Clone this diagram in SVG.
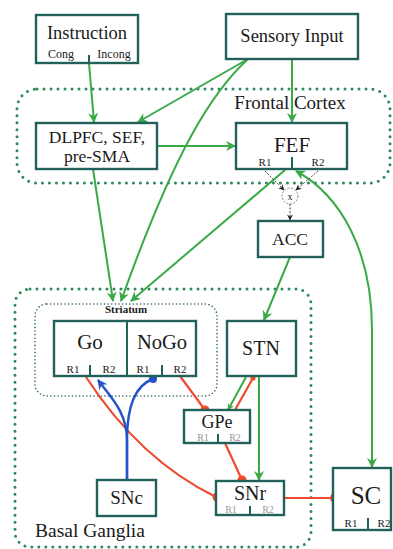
<svg xmlns="http://www.w3.org/2000/svg" width="393" height="549" viewBox="0 0 393 549">
<defs>
<style>
.box{fill:#fff;stroke:#22605a;stroke-width:2.4}
.tick{stroke:#22605a;stroke-width:2}
.t{font-family:"Liberation Serif","Times New Roman",serif;fill:#1a1a1a;text-anchor:middle}
.sm{font-size:11px}
.xs{font-size:10px}
.gray{fill:#9a9a9a}
.frame{fill:none;stroke:#2a8a5a;stroke-width:3;stroke-dasharray:0 7;stroke-linecap:round}
.sframe{fill:none;stroke:#22605a;stroke-width:1.6;stroke-dasharray:0 3.6;stroke-linecap:round}
.g{fill:none;stroke:#3aaa48;stroke-width:2}
.r{fill:none;stroke:#f04a2f;stroke-width:2.2}
.b{fill:none;stroke:#2452c8;stroke-width:2.4}
.k{fill:none;stroke:#333;stroke-width:0.9;stroke-dasharray:2 1.5}
.rd{fill:#f04a2f}
.bd{fill:#2452c8}
</style>
<marker id="ag" viewBox="0 0 10 10" refX="9" refY="5" markerWidth="12" markerHeight="10" markerUnits="userSpaceOnUse" orient="auto-start-reverse"><path d="M0,0 L10,5 L0,10 L3,5 z" fill="#3aaa48"/></marker>
<marker id="ags" viewBox="0 0 10 10" refX="9" refY="5" markerWidth="8" markerHeight="7" markerUnits="userSpaceOnUse" orient="auto"><path d="M0,0 L10,5 L0,10 L3,5 z" fill="#3aaa48"/></marker>
<marker id="ab" viewBox="0 0 10 10" refX="9" refY="5" markerWidth="12" markerHeight="10" markerUnits="userSpaceOnUse" orient="auto"><path d="M0,0 L10,5 L0,10 L3,5 z" fill="#2452c8"/></marker>
<marker id="ak" viewBox="0 0 10 10" refX="9" refY="5" markerWidth="7" markerHeight="6" markerUnits="userSpaceOnUse" orient="auto"><path d="M0,0 L10,5 L0,10 L3,5 z" fill="#222"/></marker>
</defs>
<rect width="393" height="549" fill="#fff"/>

<g id="frontal-cortex">
<rect class="frame" x="17" y="89" width="373" height="94" rx="20"/>
<text class="t" x="290" y="109" font-size="19">Frontal Cortex</text>
</g>
<g id="basal-ganglia">
<rect class="frame" x="15" y="289" width="296" height="258" rx="15"/>
<text class="t" x="35" y="537" font-size="19.5" style="text-anchor:start">Basal Ganglia</text>
</g>
<g id="striatum">
<rect class="sframe" x="35" y="304" width="182" height="92" rx="12"/>
<text class="t" x="126" y="313" font-size="11" font-weight="bold" fill="#333">Striatum</text>
</g>

<g id="connectors">
<path class="g" d="M89,63 L94,122" marker-end="url(#ag)"/>
<path class="g" d="M248,59 L138,122" marker-end="url(#ag)"/>
<path class="g" d="M292,59 L292,122" marker-end="url(#ag)"/>
<path class="g" d="M157,146 L235,146" marker-end="url(#ag)"/>
<path class="g" d="M248,59 C212,92 175,150 121,301" marker-end="url(#ag)"/>
<path class="g" d="M93,169 L113,301" marker-end="url(#ag)"/>
<path class="g" d="M285,170 Q220,225 131,301" marker-end="url(#ag)"/>
<path class="g" d="M296,171 C340,195 372,250 372,330 L372,467" marker-start="url(#ag)" marker-end="url(#ag)"/>
<path class="g" d="M290,257 L264,320" marker-end="url(#ag)"/>
<path class="g" d="M246,377 L228,410" marker-end="url(#ags)"/>
<path class="g" d="M259,377 L259,480" marker-end="url(#ag)"/>
<path class="k" d="M265,171 L284,190" marker-end="url(#ak)"/>
<path class="k" d="M318,171 L296,190" marker-end="url(#ak)"/>
<path class="k" d="M290,204 L290,220" marker-end="url(#ak)"/>
<circle cx="290" cy="196" r="8" fill="#fff" stroke="#777" stroke-width="0.9" stroke-dasharray="2 1.5"/>
<text class="t" x="290" y="199.5" font-size="10">x</text>
<path class="r" d="M235,410 L253,378"/>
<circle class="rd" cx="253" cy="378" r="2.6"/>
<path class="r" d="M180,376 L205,410"/>
<circle class="rd" cx="205" cy="410" r="4.5"/>
<path class="r" d="M225,443 L242,480"/>
<circle class="rd" cx="242" cy="480" r="4.5"/>
<path class="r" d="M86,377 Q140,460 216,497"/>
<circle class="rd" cx="217" cy="497" r="4.5"/>
<path class="r" d="M284,498 L333,498"/>
<circle class="rd" cx="335" cy="498" r="5"/>
<path class="b" d="M127,480 L127,440 C127,412 110,396 98,380" marker-end="url(#ab)"/>
<path class="b" d="M127,480 L127,440 C127,405 136,385 153,379"/>
<circle class="bd" cx="153" cy="379" r="4"/>
</g>

<g id="instruction">
<rect class="box" x="36" y="15" width="102" height="48"/>
<text class="t" x="87" y="39" font-size="18.5">Instruction</text>
<text class="t" x="61" y="58" font-size="12">Cong</text>
<text class="t" x="114" y="58" font-size="12">Incong</text>
<line class="tick" x1="89" y1="55" x2="89" y2="63"/>
</g>
<g id="sensory-input">
<rect class="box" x="226" y="14" width="132" height="45"/>
<text class="t" x="292" y="42" font-size="18.5">Sensory Input</text>
</g>
<g id="dlpfc">
<rect class="box" x="36" y="123" width="121" height="46"/>
<text class="t" x="97" y="143" font-size="17.5">DLPFC, SEF,</text>
<text class="t" x="97" y="162" font-size="17.5">pre-SMA</text>
</g>
<g id="fef">
<rect class="box" x="236" y="123" width="111" height="46"/>
<text class="t" x="292" y="152" font-size="21">FEF</text>
<text class="t sm" x="265" y="166">R1</text>
<text class="t sm" x="318" y="166">R2</text>
<line class="tick" x1="292" y1="157" x2="292" y2="169"/>
</g>
<g id="acc">
<rect class="box" x="258" y="221" width="65" height="36"/>
<text class="t" x="290" y="245" font-size="17.5">ACC</text>
</g>
<g id="go-nogo">
<rect class="box" x="54" y="321" width="142" height="55"/>
<line class="tick" x1="127" y1="321" x2="127" y2="376"/>
<text class="t" x="90" y="349" font-size="21">Go</text>
<text class="t" x="162" y="349" font-size="20.5">NoGo</text>
<text class="t sm" x="73" y="373">R1</text>
<text class="t sm" x="109" y="373">R2</text>
<text class="t sm" x="143" y="373">R1</text>
<text class="t sm" x="180" y="373">R2</text>
<line class="tick" x1="90" y1="365" x2="90" y2="376"/>
<line class="tick" x1="162" y1="365" x2="162" y2="376"/>
</g>
<g id="stn">
<rect class="box" x="227" y="321" width="69" height="55"/>
<text class="t" x="261" y="355" font-size="20">STN</text>
</g>
<g id="gpe">
<rect class="box" x="184" y="410" width="66" height="33"/>
<text class="t" x="217" y="428" font-size="18">GPe</text>
<text class="t xs gray" x="203" y="441">R1</text>
<text class="t xs gray" x="235" y="441">R2</text>
<line class="tick" x1="218" y1="434" x2="218" y2="443"/>
</g>
<g id="snr">
<rect class="box" x="216" y="481" width="68" height="34"/>
<text class="t" x="250" y="500" font-size="20">SNr</text>
<text class="t xs gray" x="231" y="513">R1</text>
<text class="t xs gray" x="268" y="513">R2</text>
<line class="tick" x1="250" y1="506" x2="250" y2="515"/>
</g>
<g id="snc">
<rect class="box" x="97" y="480" width="59" height="36"/>
<text class="t" x="126.5" y="504" font-size="19">SNc</text>
</g>
<g id="sc">
<rect class="box" x="333" y="468" width="58" height="62"/>
<text class="t" x="366" y="504" font-size="25">SC</text>
<text class="t sm" x="351" y="527">R1</text>
<text class="t sm" x="384" y="527">R2</text>
<line class="tick" x1="368" y1="518" x2="368" y2="530"/>
</g>
</svg>
